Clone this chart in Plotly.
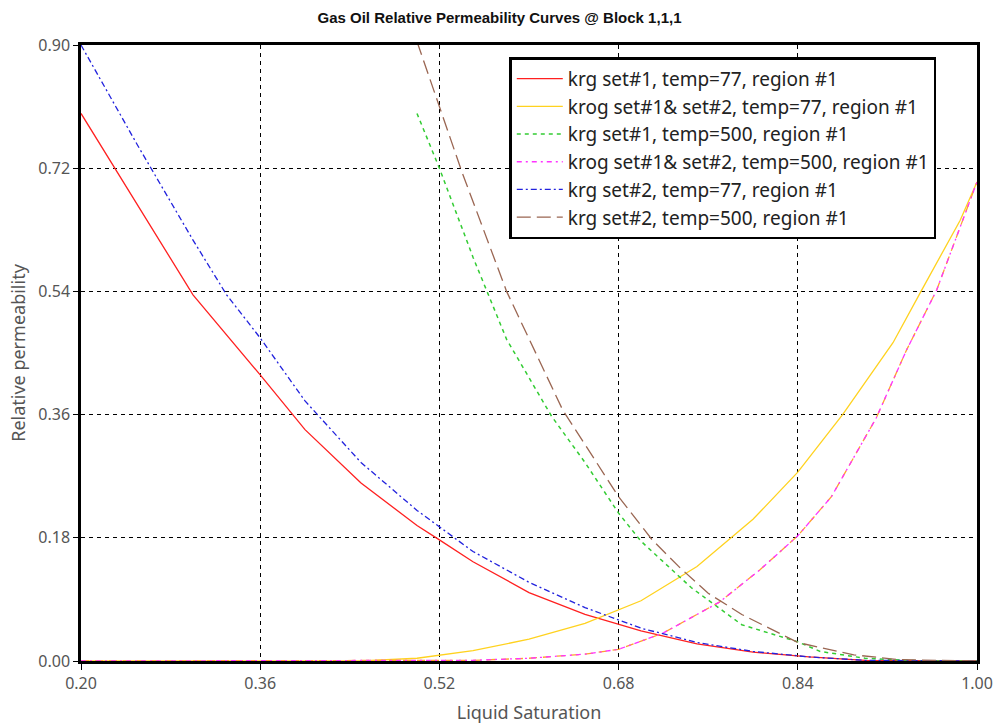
import plotly.graph_objects as go

# ---- data ----
sl_red = [0.20, 0.30, 0.36, 0.40, 0.45, 0.50, 0.52, 0.55, 0.60, 0.65, 0.70, 0.75, 0.80, 0.85, 0.90, 0.95, 1.00]
krg_set1_77 = [0.80, 0.535, 0.418, 0.338, 0.26, 0.198, 0.177, 0.145, 0.10, 0.068, 0.044, 0.025, 0.013, 0.006, 0.001, 0.0, 0.0]

sl_blue = [0.20, 0.25, 0.30, 0.33, 0.36, 0.40, 0.45, 0.50, 0.52, 0.55, 0.60, 0.65, 0.70, 0.75, 0.80, 0.85, 0.90, 0.95, 1.00]
krg_set2_77 = [0.90, 0.755, 0.615, 0.535, 0.472, 0.38, 0.29, 0.22, 0.196, 0.16, 0.115, 0.078, 0.048, 0.027, 0.014, 0.006, 0.001, 0.0, 0.0]

sl_yellow = [0.20, 0.45, 0.50, 0.55, 0.60, 0.65, 0.70, 0.75, 0.80, 0.84, 0.88, 0.925, 0.95, 0.985, 1.00]
krog_77 = [0.0, 0.0, 0.004, 0.015, 0.032, 0.055, 0.088, 0.138, 0.207, 0.276, 0.36, 0.465, 0.54, 0.644, 0.70]

sl_green = [0.50, 0.52, 0.55, 0.58, 0.62, 0.65, 0.68, 0.70, 0.745, 0.79, 0.84, 0.86, 0.90, 0.95, 1.00]
krg_set1_500 = [0.80, 0.72, 0.59, 0.47, 0.358, 0.29, 0.216, 0.175, 0.107, 0.053, 0.028, 0.014, 0.004, 0.0, 0.0]

sl_brown = [0.50, 0.54, 0.58, 0.63, 0.68, 0.71, 0.735, 0.76, 0.79, 0.84, 0.89, 0.93, 1.00]
krg_set2_500 = [0.905, 0.715, 0.54, 0.367, 0.24, 0.177, 0.136, 0.099, 0.068, 0.027, 0.009, 0.002, 0.0]

sl_magenta = [0.20, 0.50, 0.55, 0.60, 0.65, 0.68, 0.72, 0.77, 0.806, 0.84, 0.87, 0.91, 0.937, 0.964, 1.00]
krog_500 = [0.0, 0.0, 0.001, 0.004, 0.010, 0.017, 0.041, 0.086, 0.133, 0.183, 0.24, 0.355, 0.454, 0.542, 0.70]

x_ticks = [0.20, 0.36, 0.52, 0.68, 0.84, 1.00]
y_ticks = [0.00, 0.18, 0.36, 0.54, 0.72, 0.90]

names = [
    "krg set#1, temp=77, region #1",
    "krog set#1& set#2, temp=77, region #1",
    "krg set#1, temp=500, region #1",
    "krog set#1& set#2, temp=500, region #1",
    "krg set#2, temp=77, region #1",
    "krg set#2, temp=500, region #1",
]

fig = go.Figure()
fig.add_trace(go.Scatter(x=sl_red, y=krg_set1_77, mode="lines", name=names[0],
                         line=dict(color="#ff2020", width=1.3)))
fig.add_trace(go.Scatter(x=sl_yellow, y=krog_77, mode="lines", name=names[1],
                         line=dict(color="#ffd21f", width=1.3)))
fig.add_trace(go.Scatter(x=sl_green, y=krg_set1_500, mode="lines", name=names[2],
                         line=dict(color="#33cc33", width=1.5, dash="4px,4px")))
# orange underlay of the krog 500 curve (drawn twice in the original)
fig.add_trace(go.Scatter(x=sl_magenta, y=krog_500, mode="lines", showlegend=False, hoverinfo="skip",
                         line=dict(color="#ffa030", width=1.3, dash="8px,6px")))
fig.add_trace(go.Scatter(x=sl_magenta, y=krog_500, mode="lines", name=names[3],
                         line=dict(color="#ff33ff", width=1.3, dash="5px,4px,2px,4px")))
fig.add_trace(go.Scatter(x=sl_blue, y=krg_set2_77, mode="lines", name=names[4],
                         line=dict(color="#2222dd", width=1.3, dash="6px,3px,2px,3px")))
fig.add_trace(go.Scatter(x=sl_brown, y=krg_set2_500, mode="lines", name=names[5],
                         line=dict(color="#9a6652", width=1.3, dash="14px,6px")))

tick_font = dict(family="Noto Sans, DejaVu Sans, sans-serif", size=16, color="#555")
title_font = dict(family="Noto Sans, DejaVu Sans, sans-serif", size=18, color="#555")
fig.update_layout(
    width=999, height=724,
    margin=dict(l=81, r=22, t=45, b=63),
    paper_bgcolor="white", plot_bgcolor="white",
    title=dict(text="<b>Gas Oil Relative Permeability Curves @ Block 1,1,1</b>",
               x=0.5, xanchor="center", y=0.975, yanchor="middle",
               font=dict(family="Liberation Sans, Arial, sans-serif", size=15, color="#111")),
    xaxis=dict(range=[0.20, 1.00], tickvals=x_ticks, ticktext=[f"{v:.2f}" for v in x_ticks],
               showgrid=True, gridcolor="black", griddash="4px,4px", gridwidth=1.2,
               showline=True, linecolor="black", linewidth=2.5, mirror=True,
               ticks="outside", ticklen=6, tickcolor="black", tickfont=tick_font,
               ticklabelstandoff=0, zeroline=False, automargin=False,
               title=dict(text="Liquid Saturation", standoff=20, font=title_font)),
    yaxis=dict(range=[0.0, 0.90], tickvals=y_ticks, ticktext=[f"{v:.2f}" for v in y_ticks],
               showgrid=True, gridcolor="black", griddash="4px,4px", gridwidth=1.2,
               showline=True, linecolor="black", linewidth=2.5, mirror=True,
               ticks="outside", ticklen=5, tickcolor="black", tickfont=tick_font,
               zeroline=False, automargin=False,
               title=dict(text="Relative permeability", standoff=8, font=title_font)),
    legend=dict(x=0.478, y=0.98, xanchor="left", yanchor="top",
                bgcolor="white", bordercolor="black", borderwidth=2.5,
                font=dict(family="Noto Sans, DejaVu Sans, sans-serif", size=19, color="#222"),
                tracegroupgap=0, itemwidth=46),
    showlegend=True,
)

fig.write_html("out.html")
